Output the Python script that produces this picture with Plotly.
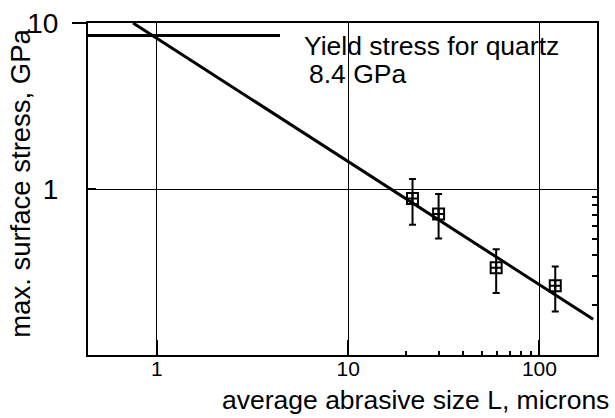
import plotly.graph_objects as go
import math

# Data
size_um = [21.7, 29.7, 59.4, 121]
stress_gpa = [0.877, 0.706, 0.336, 0.261]
stress_hi = [1.15, 0.933, 0.434, 0.341]
stress_lo = [0.61, 0.503, 0.236, 0.183]

fit_x = [0.75, 191]
fit_y = [10, 0.164]

yield_x = [0.436, 4.4]
yield_y = [8.4, 8.4]

x_major = [1, 10, 100]
x_major_text = ["1", "10", "100"]
x_minor = [20, 30, 40, 50, 60, 70, 80, 90]
y_major = [1, 10]
y_major_text = ["1", "10"]
y_minor = [0.2, 0.3, 0.4, 0.5, 0.6, 0.7, 0.8, 0.9]

err_plus = [h - v for h, v in zip(stress_hi, stress_gpa)]
err_minus = [v - l for l, v in zip(stress_lo, stress_gpa)]

FONT = "Liberation Sans, Arial, sans-serif"
xr = [math.log10(0.436), math.log10(200)]
yr = [-1, 1]

fig = go.Figure()
fig.add_trace(go.Scatter(x=yield_x, y=yield_y, mode="lines",
                         line=dict(color="black", width=3), showlegend=False))
fig.add_trace(go.Scatter(x=fit_x, y=fit_y, mode="lines",
                         line=dict(color="black", width=3), showlegend=False))
fig.add_trace(go.Scatter(
    x=size_um, y=stress_gpa, mode="markers",
    marker=dict(symbol="square-cross-open", size=11, color="black",
                line=dict(color="black", width=2)),
    error_y=dict(type="data", symmetric=False, array=err_plus, arrayminus=err_minus,
                 color="black", thickness=2, width=3.5),
    showlegend=False))

# helper traces to anchor the overlay axes (extra tick marks)
fig.add_trace(go.Scatter(x=[1], y=[1], xaxis="x", yaxis="y3", mode="markers",
                         marker=dict(opacity=0), showlegend=False, hoverinfo="skip"))
fig.add_trace(go.Scatter(x=[1], y=[1], xaxis="x", yaxis="y2", mode="markers",
                         marker=dict(opacity=0), showlegend=False, hoverinfo="skip"))

fig.update_layout(
    width=615, height=418,
    margin=dict(l=88, r=18, t=23, b=63, autoexpand=False),
    paper_bgcolor="white", plot_bgcolor="white",
    font=dict(family=FONT, color="black"),
    xaxis=dict(type="log", range=xr, tickmode="array", tickvals=x_major,
               ticktext=x_major_text, ticks="inside", ticklen=15, tickwidth=2,
               tickcolor="black", showgrid=True, gridcolor="black", gridwidth=1,
               showline=True, linecolor="black", linewidth=2, mirror=True,
               zeroline=False, tickfont=dict(size=21, family=FONT, color="black"),
               ticklabelstandoff=-6, automargin=False,
               minor=dict(tickmode="array", tickvals=x_minor, ticks="inside",
                          ticklen=4, tickwidth=1.5, tickcolor="black", showgrid=False)),
    yaxis=dict(type="log", range=yr, tickmode="array", tickvals=y_major,
               ticktext=y_major_text, ticks="inside", ticklen=8, tickwidth=2,
               tickcolor="black", showgrid=True, gridcolor="black", gridwidth=1,
               showline=True, linecolor="black", linewidth=2, mirror=True,
               zeroline=False, tickfont=dict(size=28, family=FONT, color="black"),
               ticklabelstandoff=22, automargin=False),
    yaxis2=dict(type="log", range=yr, overlaying="y", side="left", tickmode="array",
                tickvals=[10], ticks="outside", ticklen=15, tickwidth=2,
                tickcolor="black", showticklabels=False, showgrid=False,
                zeroline=False, showline=False, automargin=False),
    yaxis3=dict(type="log", range=yr, overlaying="y", side="right", tickmode="array",
                tickvals=y_minor, ticks="inside", ticklen=5, tickwidth=1.5,
                tickcolor="black", showticklabels=False, showgrid=False,
                zeroline=False, showline=False, automargin=False),
    annotations=[
        dict(text="Yield stress for quartz", xref="paper", yref="paper",
             x=0.420, y=0.930, xanchor="left", yanchor="middle", showarrow=False,
             font=dict(size=26.5, family=FONT, color="black")),
        dict(text="8.4 GPa", xref="paper", yref="paper",
             x=0.430, y=0.846, xanchor="left", yanchor="middle", showarrow=False,
             font=dict(size=26.5, family=FONT, color="black")),
        dict(text="average abrasive size L, microns", xref="paper", yref="paper",
             x=1.0275, y=-0.137, xanchor="right", yanchor="middle", showarrow=False,
             font=dict(size=26.5, family=FONT, color="black")),
        dict(text="max. surface stress, GPa", xref="paper", yref="paper",
             x=-0.134, y=0.518, xanchor="center", yanchor="middle", showarrow=False,
             textangle=-90, font=dict(size=27.5, family=FONT, color="black")),
    ],
)

fig.write_html(
    "out.html",
    config={"displayModeBar": False},
    post_script="document.body.style.margin='0';document.body.style.overflow='hidden';",
)
